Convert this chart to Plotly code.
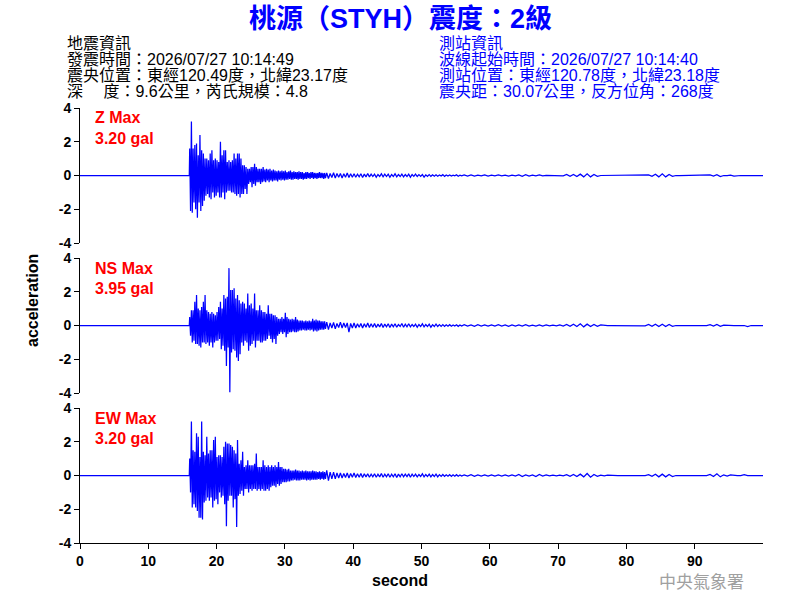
import plotly.graph_objects as go

# ---------------- data ----------------
x_start, x_end = 0.0, 100.0          # record span (s)
fine_start, fine_step = 16.0, 0.25   # strong motion, bins 16.00 .. 35.75
mid_start, mid_step = 36.0, 0.5      # coda, bins 36.0 .. 55.5
tail_start, tail_step = 56.0, 1.0    # late coda, bins 56 .. 99

# ---- Z component: per-bin positive / negative peaks (gal)
z_up = [1.6, 3.2, 1.6, 1.8, 1.9, 1.2, 2.4, 1.5, 1.3, 1.0,
        1.0, 0.9, 1.3, 1.5, 0.9, 1.0, 0.9, 0.8, 2.0, 1.2,
        1.5, 1.5, 0.8, 0.9, 0.8, 0.9, 1.3, 1.0, 1.3, 1.3,
        1.0, 0.6, 0.6, 0.5, 0.4, 0.4, 0.5, 0.5, 0.7, 0.5,
        0.4, 0.4, 0.4, 0.5, 0.35, 0.4, 0.35, 0.4, 0.3, 0.35,
        0.3, 0.25, 0.3, 0.25, 0.3, 0.25, 0.3, 0.2, 0.25, 0.3,
        0.2, 0.25, 0.2, 0.2, 0.25, 0.2, 0.2, 0.15, 0.2, 0.2,
        0.15, 0.2, 0.2, 0.15, 0.15, 0.15, 0.2, 0.15, 0.15, 0.15]
z_dn = [-2.1, -2.2, -1.6, -2.0, -2.5, -1.6, -2.1, -1.8, -1.5, -1.2,
        -1.1, -1.3, -1.4, -1.0, -1.3, -1.2, -1.0, -1.3, -1.3, -1.0,
        -1.4, -1.0, -0.9, -0.9, -1.0, -1.0, -1.1, -1.2, -1.1, -1.3,
        -1.1, -1.1, -0.8, -1.1, -0.5, -0.4, -0.7, -0.5, -0.6, -0.4,
        -0.4, -0.5, -0.4, -0.35, -0.4, -0.3, -0.4, -0.3, -0.35, -0.3,
        -0.3, -0.35, -0.25, -0.3, -0.25, -0.3, -0.25, -0.25, -0.2, -0.25,
        -0.25, -0.2, -0.2, -0.25, -0.2, -0.2, -0.25, -0.2, -0.2, -0.15,
        -0.2, -0.15, -0.2, -0.15, -0.2, -0.15, -0.15, -0.15, -0.2, -0.15]
z_mid_up = [0.15, 0.12, 0.16, 0.12, 0.12, 0.10, 0.15, 0.10, 0.10, 0.08,
            0.10, 0.08, 0.12, 0.08, 0.08, 0.06, 0.10, 0.08, 0.08, 0.06,
            0.10, 0.06, 0.08, 0.06, 0.08, 0.06, 0.08, 0.05, 0.06, 0.04,
            0.05, 0.04, 0.04, 0.03, 0.05, 0.03, 0.03, 0.02, 0.04, 0.02]
z_mid_dn = [-0.18, -0.12, -0.15, -0.10, -0.15, -0.10, -0.12, -0.10, -0.10, -0.08,
            -0.12, -0.08, -0.08, -0.06, -0.10, -0.06, -0.08, -0.06, -0.10, -0.06,
            -0.08, -0.06, -0.08, -0.06, -0.10, -0.05, -0.06, -0.05, -0.10, -0.05,
            -0.05, -0.04, -0.04, -0.03, -0.05, -0.03, -0.03, -0.02, -0.04, -0.02]
z_tail_up = [0.04, 0.03, 0.02, 0.04, 0.02, 0.03, 0.02, 0.02, 0.04, 0.05,
             0.02, 0.03, 0.00, 0.02, 0.02, 0.06, 0.06, 0.08, 0.10, 0.06,
             0.00, 0.00, 0.00, 0.00, 0.00, 0.00, 0.00, 0.04, 0.08, 0.10,
             0.06, 0.00, 0.00, 0.00, 0.00, 0.00, 0.03, 0.05, 0.00, 0.02,
             0.00, 0.00, 0.00, 0.00]
z_tail_dn = [-0.03, -0.03, -0.02, -0.03, -0.02, -0.02, -0.03, -0.02, -0.05, -0.04,
             -0.02, -0.02, 0.00, -0.02, -0.02, -0.05, -0.06, -0.08, -0.08, -0.05,
             0.00, 0.00, 0.00, 0.00, 0.00, 0.00, 0.00, -0.05, -0.08, -0.08,
             -0.05, 0.00, 0.00, 0.00, 0.00, 0.00, -0.03, -0.06, 0.00, -0.03,
             0.00, 0.00, 0.00, 0.00]

# ---- NS component
ns_up = [0.5, 0.9, 0.9, 1.4, 1.8, 1.0, 0.9, 1.1, 1.4, 1.8,
         0.9, 0.8, 0.7, 0.8, 0.7, 0.6, 0.8, 1.1, 1.4, 1.0,
         1.8, 1.6, 1.7, 3.4, 2.1, 2.1, 2.2, 1.6, 1.8, 1.5,
         1.3, 1.4, 1.3, 1.0, 1.9, 1.2, 1.3, 1.0, 1.9, 0.9,
         0.9, 1.2, 0.9, 0.8, 0.8, 0.7, 1.2, 0.7, 0.7, 0.6,
         0.6, 0.5, 0.4, 0.4, 0.5, 0.4, 0.75, 0.5, 0.4, 0.35,
         0.4, 0.35, 0.5, 0.35, 0.3, 0.3, 0.3, 0.25, 0.3, 0.25,
         0.3, 0.25, 0.4, 0.3, 0.35, 0.3, 0.3, 0.25, 0.25, 0.25]
ns_dn = [-0.6, -1.0, -0.9, -1.1, -1.1, -1.2, -1.3, -1.0, -1.0, -1.1,
         -1.0, -1.2, -1.0, -1.3, -1.0, -0.9, -0.9, -0.8, -1.4, -1.2,
         -1.5, -2.4, -1.3, -3.95, -1.6, -1.4, -1.5, -1.9, -2.1, -1.7,
         -1.0, -1.2, -0.9, -1.0, -1.5, -1.2, -1.1, -0.9, -1.3, -0.9,
         -0.9, -1.0, -1.0, -0.9, -0.9, -0.8, -0.6, -0.8, -1.0, -0.8,
         -1.1, -0.6, -0.5, -0.4, -0.5, -0.4, -0.7, -0.5, -0.4, -0.4,
         -0.35, -0.4, -0.4, -0.35, -0.3, -0.3, -0.25, -0.3, -0.3, -0.25,
         -0.3, -0.25, -0.35, -0.3, -0.35, -0.3, -0.25, -0.25, -0.25, -0.2]
ns_mid_up = [0.20, 0.15, 0.18, 0.12, 0.20, 0.15, 0.15, 0.12, 0.15, 0.10,
             0.12, 0.10, 0.15, 0.10, 0.12, 0.08, 0.12, 0.08, 0.10, 0.08,
             0.10, 0.06, 0.12, 0.08, 0.10, 0.06, 0.08, 0.06, 0.10, 0.06,
             0.08, 0.05, 0.08, 0.05, 0.05, 0.04, 0.05, 0.03, 0.04, 0.03]
ns_mid_dn = [-0.25, -0.15, -0.20, -0.12, -0.15, -0.12, -0.40, -0.15, -0.15, -0.10,
             -0.15, -0.10, -0.12, -0.10, -0.12, -0.08, -0.12, -0.08, -0.12, -0.08,
             -0.10, -0.06, -0.10, -0.08, -0.08, -0.06, -0.10, -0.06, -0.08, -0.06,
             -0.10, -0.06, -0.06, -0.05, -0.05, -0.04, -0.04, -0.03, -0.05, -0.03]
ns_tail_up = [0.05, 0.04, 0.05, 0.04, 0.04, 0.05, 0.04, 0.03, 0.04, 0.05,
              0.02, 0.04, 0.03, 0.02, 0.03, 0.06, 0.08, 0.10, 0.08, 0.06,
              0.04, 0.00, 0.00, 0.00, 0.00, 0.00, 0.02, 0.06, 0.08, 0.08,
              0.06, 0.00, 0.00, 0.00, 0.00, 0.00, 0.05, 0.06, 0.02, 0.00,
              0.00, 0.00, 0.00, 0.00]
ns_tail_dn = [-0.04, -0.05, -0.03, -0.04, -0.04, -0.03, -0.05, -0.03, -0.03, -0.04,
              -0.03, -0.03, -0.02, -0.02, -0.03, -0.05, -0.06, -0.08, -0.06, -0.05,
              0.00, 0.00, 0.00, 0.00, 0.00, 0.00, -0.02, -0.05, -0.06, -0.06,
              -0.05, 0.00, 0.00, 0.00, 0.00, 0.00, -0.04, -0.05, 0.00, 0.00,
              0.00, -0.06, 0.00, 0.00]

# ---- EW component
ew_up = [1.0, 3.2, 1.5, 1.4, 2.5, 2.3, 1.1, 3.2, 1.4, 1.2,
         2.3, 1.3, 1.5, 1.5, 2.1, 2.3, 1.1, 1.2, 1.2, 1.1,
         1.7, 2.0, 1.9, 1.9, 1.8, 1.7, 1.5, 1.3, 2.1, 0.7,
         0.9, 1.4, 0.5, 0.6, 0.9, 0.6, 0.6, 0.6, 0.7, 1.3,
         0.5, 0.5, 0.5, 0.9, 0.6, 0.5, 0.6, 0.5, 0.6, 0.5,
         0.6, 0.5, 0.8, 0.5, 0.5, 0.4, 0.4, 0.35, 0.4, 0.3,
         0.3, 0.3, 0.35, 0.3, 0.3, 0.25, 0.3, 0.25, 0.3, 0.25,
         0.25, 0.25, 0.3, 0.25, 0.25, 0.2, 0.25, 0.2, 0.25, 0.2]
ew_dn = [-1.0, -1.9, -1.7, -1.9, -2.1, -2.5, -2.5, -2.6, -1.6, -1.5,
         -1.3, -1.5, -1.3, -1.9, -1.5, -1.4, -1.7, -1.0, -1.3, -1.2,
         -1.7, -3.0, -1.5, -1.2, -1.2, -1.9, -1.4, -3.05, -1.2, -1.1,
         -0.9, -1.2, -0.8, -0.8, -1.0, -0.8, -0.9, -0.8, -0.8, -0.9,
         -0.8, -0.9, -0.8, -0.9, -0.9, -0.8, -0.9, -0.7, -0.6, -0.6,
         -0.7, -0.5, -0.6, -0.5, -0.4, -0.4, -0.4, -0.35, -0.35, -0.3,
         -0.3, -0.25, -0.3, -0.3, -0.3, -0.25, -0.25, -0.25, -0.3, -0.25,
         -0.3, -0.25, -0.25, -0.25, -0.25, -0.2, -0.25, -0.2, -0.25, -0.2]
ew_mid_up = [0.30, 0.20, 0.20, 0.15, 0.15, 0.12, 0.15, 0.12, 0.15, 0.10,
             0.12, 0.10, 0.10, 0.08, 0.10, 0.08, 0.12, 0.08, 0.10, 0.08,
             0.10, 0.08, 0.10, 0.08, 0.10, 0.08, 0.08, 0.06, 0.10, 0.06,
             0.08, 0.06, 0.08, 0.05, 0.06, 0.04, 0.05, 0.04, 0.05, 0.03]
ew_mid_dn = [-0.30, -0.20, -0.20, -0.15, -0.15, -0.12, -0.15, -0.10, -0.12, -0.10,
             -0.12, -0.08, -0.10, -0.08, -0.10, -0.08, -0.10, -0.08, -0.10, -0.08,
             -0.12, -0.08, -0.08, -0.06, -0.10, -0.06, -0.08, -0.06, -0.08, -0.06,
             -0.08, -0.06, -0.08, -0.05, -0.05, -0.04, -0.05, -0.04, -0.04, -0.03]
ew_tail_up = [0.04, 0.05, 0.04, 0.04, 0.04, 0.03, 0.04, 0.03, 0.06, 0.04,
              0.03, 0.06, 0.03, 0.02, 0.02, 0.05, 0.06, 0.08, 0.12, 0.06,
              0.02, 0.02, 0.02, 0.00, 0.00, 0.00, 0.00, 0.05, 0.08, 0.08,
              0.06, 0.00, 0.02, 0.00, 0.00, 0.00, 0.06, 0.10, 0.04, 0.04,
              0.00, 0.05, 0.00, 0.00]
ew_tail_dn = [-0.04, -0.05, -0.03, -0.04, -0.04, -0.03, -0.03, -0.03, -0.06, -0.03,
              -0.06, -0.03, -0.02, -0.02, -0.02, -0.05, -0.06, -0.08, -0.10, -0.05,
              -0.02, 0.00, 0.00, 0.00, 0.00, 0.00, 0.00, -0.05, -0.08, -0.08,
              -0.06, 0.00, 0.00, 0.00, 0.00, 0.00, -0.06, -0.08, -0.03, 0.00,
              0.00, 0.00, 0.00, 0.00]

components = ["Z", "NS", "EW"]
max_labels = ["3.20 gal", "3.95 gal", "3.20 gal"]
y_ticks = [-4, -2, 0, 2, 4]
x_ticks = [0, 10, 20, 30, 40, 50, 60, 70, 80, 90]

title_text = "桃源（STYH）震度：2級"
quake_info = ["地震資訊",
              "發震時間：2026/07/27 10:14:49",
              "震央位置：東經120.49度，北緯23.17度",
              "深　 度：9.6公里，芮氏規模：4.8"]
station_info = ["測站資訊",
                "波線起始時間：2026/07/27 10:14:40",
                "測站位置：東經120.78度，北緯23.18度",
                "震央距：30.07公里，反方位角：268度"]


def build_trace(segments):
    """segments: list of (start, step, up_list, down_list)."""
    xs = [x_start, segments[0][0]]
    ys = [0.0, 0.0]
    for start, step, up, dn in segments:
        for i, (u, d) in enumerate(zip(up, dn)):
            t = start + i * step
            xs += [t + step * 0.25, t + step * 0.75]
            ys += [u, d]
    xs.append(x_end)
    ys.append(0.0)
    return xs, ys


series = [
    build_trace([(fine_start, fine_step, z_up, z_dn),
                 (mid_start, mid_step, z_mid_up, z_mid_dn),
                 (tail_start, tail_step, z_tail_up, z_tail_dn)]),
    build_trace([(fine_start, fine_step, ns_up, ns_dn),
                 (mid_start, mid_step, ns_mid_up, ns_mid_dn),
                 (tail_start, tail_step, ns_tail_up, ns_tail_dn)]),
    build_trace([(fine_start, fine_step, ew_up, ew_dn),
                 (mid_start, mid_step, ew_mid_up, ew_mid_dn),
                 (tail_start, tail_step, ew_tail_up, ew_tail_dn)]),
]

# ---------------- figure ----------------
W, H = 800, 600
ML, MR, MT, MB = 80, 37, 108, 57
plot_h = H - MT - MB
plot_w = W - ML - MR
panel_px = [(108, 243), (258, 393), (408, 543)]   # top/bottom pixel rows of each panel


def py(pix):
    return (H - MB - pix) / plot_h


def px(pix):
    return (pix - ML) / plot_w


LAT = "Liberation Sans, Arial, Noto Sans CJK TC"
CJK = "Liberation Sans, Noto Sans CJK TC"

fig = go.Figure()
layout = dict(
    width=W, height=H,
    margin=dict(l=ML, r=MR, t=MT, b=MB),
    paper_bgcolor="white", plot_bgcolor="white",
    showlegend=False,
)

for k, (xs, ys) in enumerate(series):
    n = "" if k == 0 else str(k + 1)
    fig.add_trace(go.Scatter(x=xs, y=ys, mode="lines",
                             line=dict(color="#0000FF", width=1.25),
                             xaxis="x" + n, yaxis="y" + n, hoverinfo="skip"))
    top, bot = panel_px[k]
    is_bottom = (k == 2)
    layout["xaxis" + n] = dict(
        domain=[0, 1], range=[x_start, x_end], anchor="y" + n,
        showgrid=False, zeroline=False,
        showline=is_bottom, linecolor="black", linewidth=1,
        ticks="outside" if is_bottom else "", ticklen=5, tickcolor="black",
        tickvals=x_ticks, showticklabels=is_bottom,
        tickfont=dict(family=LAT, size=14, color="black", weight="bold"),
    )
    layout["yaxis" + n] = dict(
        domain=[py(bot), py(top)], range=[-4, 4], anchor="x" + n,
        showgrid=False, zeroline=False,
        showline=True, linecolor="black", linewidth=1,
        ticks="outside", ticklen=5, tickcolor="black",
        tickvals=y_ticks, ticktext=[str(v) for v in y_ticks],
        tickfont=dict(family=LAT, size=14, color="black", weight="bold"),
    )

fig.update_layout(**layout)

ann = []
# title
ann.append(dict(text=title_text, x=px(400), y=py(19), xref="paper", yref="paper",
                xanchor="center", yanchor="middle", showarrow=False,
                font=dict(family=CJK, size=27, color="#0000FF", weight="bold")))
# info blocks
row_y = [43, 59, 75, 91]
for i, line in enumerate(quake_info):
    ann.append(dict(text=line, x=px(65), y=py(row_y[i]), xref="paper", yref="paper",
                    xanchor="left", yanchor="middle", showarrow=False,
                    font=dict(family=CJK, size=16, color="black")))
for i, line in enumerate(station_info):
    ann.append(dict(text=line, x=px(437), y=py(row_y[i]), xref="paper", yref="paper",
                    xanchor="left", yanchor="middle", showarrow=False,
                    font=dict(family=CJK, size=16, color="#0000FF")))
# panel labels
for k, comp in enumerate(components):
    top = panel_px[k][0]
    ann.append(dict(text=comp + " Max", x=px(93), y=py(top + 10), xref="paper", yref="paper",
                    xanchor="left", yanchor="middle", showarrow=False,
                    font=dict(family=LAT, size=16, color="#FF0000", weight="bold")))
    ann.append(dict(text=max_labels[k], x=px(93), y=py(top + 30), xref="paper", yref="paper",
                    xanchor="left", yanchor="middle", showarrow=False,
                    font=dict(family=LAT, size=16, color="#FF0000", weight="bold")))
# axis titles
ann.append(dict(text="second", x=px(400), y=py(580), xref="paper", yref="paper",
                xanchor="center", yanchor="middle", showarrow=False,
                font=dict(family=LAT, size=16, color="black", weight="bold")))
ann.append(dict(text="acceleration", x=px(32), y=py(301), xref="paper", yref="paper",
                xanchor="center", yanchor="middle", showarrow=False, textangle=-90,
                font=dict(family=LAT, size=16, color="black", weight="bold")))
# watermark
ann.append(dict(text="中央氣象署", x=px(701), y=py(580), xref="paper", yref="paper",
                xanchor="center", yanchor="middle", showarrow=False,
                font=dict(family="Noto Sans CJK TC", size=17, color="#A0A0A0")))

fig.update_layout(annotations=ann)
fig.write_html("out.html")
